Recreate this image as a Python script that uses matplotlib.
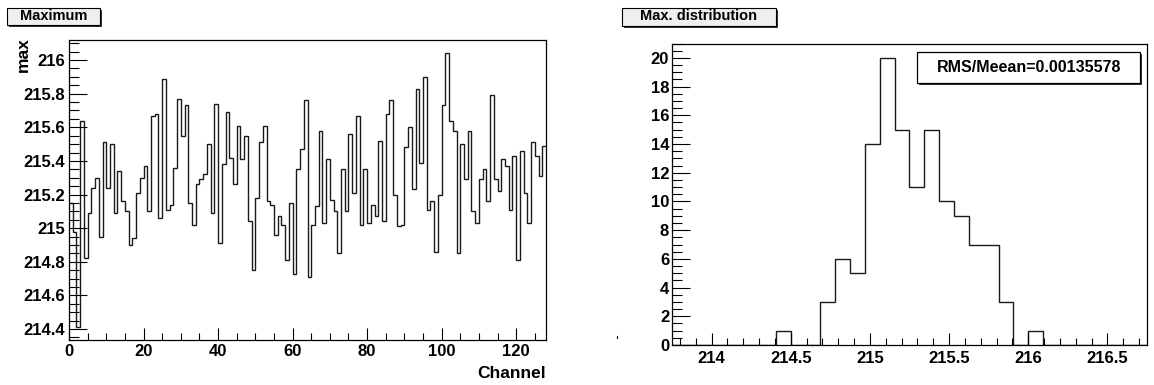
# ROOT-style canvas: channel maximum (left) and its distribution (right)
import numpy as np
import matplotlib
matplotlib.use("Agg")
from matplotlib import pyplot as plt
from matplotlib.patches import Rectangle
from matplotlib.ticker import MultipleLocator

plt.rcParams['font.family'] = ['Liberation Sans', 'DejaVu Sans']
plt.rcParams['font.weight'] = 'bold'

# maximum per channel (128 channels)
max_values = [
    215.15, 214.98, 214.41, 215.64, 214.82, 215.09, 215.24, 215.30, 214.95, 215.51,
    215.24, 215.50, 215.09, 215.34, 215.16, 215.10, 214.90, 214.94, 215.21, 215.30,
    215.37, 215.10, 215.67, 215.68, 215.06, 215.89, 215.11, 215.14, 215.36, 215.77,
    215.55, 215.73, 215.15, 215.02, 215.26, 215.29, 215.32, 215.50, 215.09, 215.74,
    214.91, 215.38, 215.69, 215.42, 215.26, 215.61, 215.41, 215.55, 215.04, 214.75,
    215.18, 215.51, 215.61, 215.16, 215.14, 214.96, 215.07, 215.02, 214.81, 215.15,
    214.73, 215.35, 215.47, 215.76, 214.71, 215.02, 215.13, 215.58, 215.03, 215.41,
    215.17, 215.10, 214.85, 215.35, 215.10, 215.56, 215.21, 215.67, 215.02, 215.35,
    215.03, 215.14, 215.07, 215.52, 215.04, 215.68, 215.76, 215.20, 215.01, 215.02,
    215.48, 215.60, 215.23, 215.83, 215.39, 215.90, 215.11, 215.16, 214.86, 215.20,
    215.73, 216.04, 215.64, 215.58, 214.85, 215.50, 215.29, 215.58, 215.10, 215.03,
    215.29, 215.35, 215.16, 215.79, 215.29, 215.22, 215.41, 215.37, 215.11, 215.43,
    214.81, 215.46, 215.21, 215.03, 215.51, 215.43, 215.31, 215.49,
]

# distribution: 32 bins from 213.75 to 216.75
dist_lo, dist_hi = 213.75, 216.75
dist_counts = [0, 0, 0, 0, 0, 0, 0, 1, 0, 0,
               3, 6, 5, 14, 20, 15, 11, 15, 10, 9,
               7, 7, 3, 0, 1, 0, 0, 0, 0, 0,
               0, 0]
rms_over_mean = "RMS/Meean=0.00135578"

W, H = 1154, 385
fig = plt.figure(figsize=(W / 100, H / 100), dpi=100)


def fx(px):
    return px / W


def fy(py):
    return 1 - py / H


def title_box(x0, y0, x1, y1, text, fill='#efefef'):
    # shadow then box
    fig.patches.append(Rectangle((fx(x0 + 2), fy(y1 + 2)), fx(x1 - x0), (y1 - y0) / H,
                                 transform=fig.transFigure, facecolor='#333333',
                                 edgecolor='none', zorder=5))
    fig.patches.append(Rectangle((fx(x0), fy(y1)), fx(x1 - x0), (y1 - y0) / H,
                                 transform=fig.transFigure, facecolor=fill,
                                 edgecolor='black', linewidth=0.8, zorder=6))
    fig.text(fx((x0 + x1) / 2), fy((y0 + y1) / 2 - 0.5), text, ha='center', va='center',
             fontsize=10.5, fontweight='bold', zorder=7)


def root_ticks(ax, major_len=9, minor_len=5):
    ax.tick_params(which='both', direction='in', top=False, right=False,
                   width=0.8, labelsize=12)
    ax.tick_params(which='major', length=major_len)
    ax.tick_params(which='minor', length=minor_len)
    for lab in ax.get_xticklabels() + ax.get_yticklabels():
        lab.set_fontweight('bold')
    for s in ax.spines.values():
        s.set_linewidth(0.9)


# ---- left pad: maximum vs channel
ax1 = fig.add_axes([fx(69), fy(340), fx(546 - 69), (340 - 39.5) / H])
edges = np.arange(len(max_values) + 1)
ax1.stairs(max_values, edges, color='#1a1a1a', linewidth=1.0, baseline=None)
ax1.set_xlim(0, 128)
ax1.set_ylim(214.335, 216.122)
ax1.xaxis.set_major_locator(MultipleLocator(20))
ax1.xaxis.set_minor_locator(MultipleLocator(5))
ax1.yaxis.set_major_locator(MultipleLocator(0.2))
ax1.yaxis.set_minor_locator(MultipleLocator(0.05))
ax1.set_yticks(ax1.get_yticks())
ax1.set_yticklabels([f"{v:g}" for v in ax1.get_yticks()])
ax1.set_ylim(214.335, 216.122)
root_ticks(ax1)
ax1.tick_params(axis='y', which='major', length=13)
ax1.tick_params(axis='y', which='minor', length=7)
ax1.tick_params(axis='x', pad=3)
ax1.tick_params(axis='y', pad=3)
fig.text(fx(546), fy(373), "Channel", ha='right', va='center', fontsize=12.5, fontweight='bold')
fig.text(fx(23), fy(37), "max", ha='center', va='top', rotation=90, fontsize=12.5, fontweight='bold')

# ---- right pad: distribution
ax2 = fig.add_axes([fx(672), fy(345), fx(1147 - 672), (345 - 43.5) / H])
d_edges = np.linspace(dist_lo, dist_hi, len(dist_counts) + 1)
ax2.stairs(dist_counts, d_edges, color='#1a1a1a', linewidth=1.0, baseline=0)
ax2.set_xlim(dist_lo, dist_hi)
ax2.set_ylim(0, 21)
ax2.xaxis.set_major_locator(MultipleLocator(0.5))
ax2.xaxis.set_minor_locator(MultipleLocator(0.1))
ax2.yaxis.set_major_locator(MultipleLocator(2))
ax2.yaxis.set_minor_locator(MultipleLocator(0.5))
ax2.set_xticks(ax2.get_xticks())
ax2.set_xticklabels([f"{v:g}" for v in ax2.get_xticks()])
ax2.set_xlim(dist_lo, dist_hi)
root_ticks(ax2)
ax2.tick_params(axis='y', which='major', length=13)
ax2.tick_params(axis='y', which='minor', length=7)
ax2.tick_params(axis='x', pad=4)
ax2.tick_params(axis='y', pad=2)

# stats box
fig.patches.append(Rectangle((fx(919), fy(85)), fx(1140 - 917), 31 / H,
                             transform=fig.transFigure, facecolor='#333333',
                             edgecolor='none', zorder=5))
fig.patches.append(Rectangle((fx(917), fy(83)), fx(1140 - 917), 31 / H,
                             transform=fig.transFigure, facecolor='white',
                             edgecolor='black', linewidth=0.9, zorder=6))
fig.text(fx(1029), fy(68), rms_over_mean, ha='center', va='center',
         fontsize=11.5, fontweight='bold', zorder=7)

# pad titles
title_box(7, 8, 100, 25, "Maximum")
title_box(622, 8, 776, 26, "Max. distribution")

# stray mark left of the right pad
fig.lines.append(plt.Line2D([fx(617), fx(617)], [fy(338), fy(335.5)],
                            transform=fig.transFigure, color='black', linewidth=0.8))

fig.savefig("out.png", dpi=100)
